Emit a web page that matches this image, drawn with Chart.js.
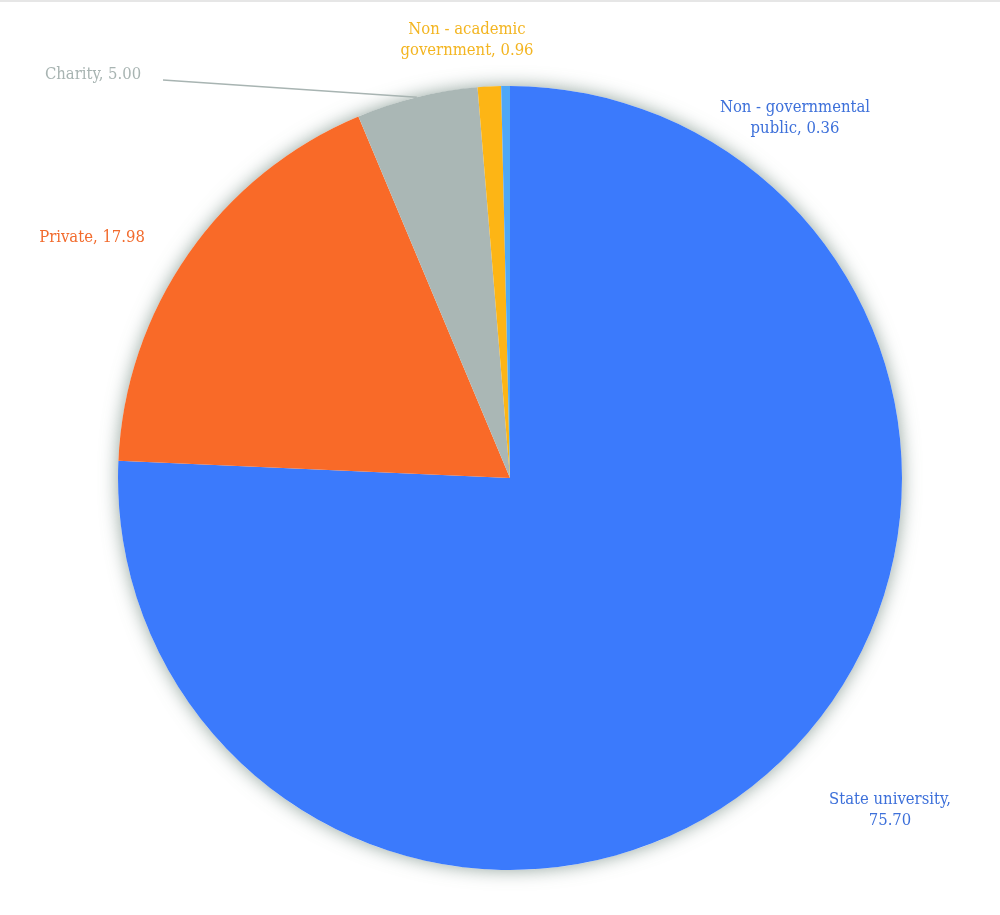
<!DOCTYPE html>
<html>
<head>
<meta charset="utf-8">
<script src="https://cdn.jsdelivr.net/npm/chart.js@4.4.0/dist/chart.umd.min.js"></script>
<style>
  html, body { margin: 0; padding: 0; background: #fff; }
  body { border-top: 2px solid #e6e6e6; box-sizing: border-box; width: 1000px; height: 915px; }
  #wrap { width: 1000px; height: 913px; }
</style>
</head>
<body>
<div id="wrap"><canvas id="pie"></canvas></div>
<script>
// Share of institutions by type (%)
const categories = ['State university', 'Private', 'Charity', 'Non - academic government', 'Non - governmental public'];
const shares = [75.70, 17.98, 5.00, 0.96, 0.36];
const sliceColors = ['#3B7AFC', '#F96A28', '#AAB7B5', '#FDB515', '#4EA7F7'];
const labelColors = ['#3D70DA', '#F26B2D', '#A8B4B2', '#F3B521', '#3D70DA'];
// label text lines per slice
const labelLines = [
  ['State university,', '75.70'],
  ['Private, 17.98'],
  ['Charity, 5.00'],
  ['Non - academic', 'government, 0.96'],
  ['Non - governmental', 'public, 0.36']
];

// Soft glow behind the pie
const pieShadow = {
  id: 'pieShadow',
  beforeDatasetsDraw(chart) {
    const arc = chart.getDatasetMeta(0).data[0];
    if (!arc) return;
    const ctx = chart.ctx;
    ctx.save();
    ctx.shadowColor = 'rgba(100,125,115,0.7)';
    ctx.shadowBlur = 18;
    ctx.fillStyle = '#ffffff';
    ctx.beginPath();
    ctx.arc(arc.x, arc.y, arc.outerRadius, 0, Math.PI * 2);
    ctx.fill();
    ctx.restore();
  }
};

// Outside labels, anchored relative to each slice
const outsideLabels = {
  id: 'outsideLabels',
  afterDatasetsDraw(chart, args, opts) {
    const ctx = chart.ctx;
    const meta = chart.getDatasetMeta(0);
    ctx.save();
    ctx.font = opts.font;
    ctx.textAlign = 'center';
    ctx.textBaseline = 'middle';
    meta.data.forEach((arc, i) => {
      const a = opts.anchors[i];
      const lines = labelLines[i];
      ctx.fillStyle = labelColors[i];
      lines.forEach((t, j) => ctx.fillText(t, a.x, a.y + j * opts.lineHeight));
      if (a.leader) {
        const mid = (arc.startAngle + arc.endAngle) / 2;
        const ex = arc.x + Math.cos(mid) * arc.outerRadius;
        const ey = arc.y + Math.sin(mid) * arc.outerRadius;
        ctx.strokeStyle = labelColors[i];
        ctx.lineWidth = 1.5;
        ctx.beginPath();
        ctx.moveTo(a.leader.x, a.leader.y);
        ctx.lineTo(ex, ey);
        ctx.stroke();
      }
    });
    ctx.restore();
  }
};

new Chart(document.getElementById('pie'), {
  type: 'pie',
  data: {
    labels: categories,
    datasets: [{
      data: shares,
      backgroundColor: sliceColors,
      borderWidth: 0
    }]
  },
  options: {
    responsive: true,
    maintainAspectRatio: false,
    animation: false,
    layout: {
      padding: { top: 84, bottom: 45, left: 118, right: 98 }
    },
    plugins: {
      legend: { display: false },
      tooltip: { enabled: false },
      outsideLabels: {
        font: "16.5px 'DejaVu Serif Condensed', 'DejaVu Serif'",
        lineHeight: 21,
        anchors: [
          { x: 890, y: 798 },
          { x: 92, y: 236 },
          { x: 93, y: 73, leader: { x: 163, y: 78 } },
          { x: 467, y: 28 },
          { x: 795, y: 106 }
        ]
      }
    }
  },
  plugins: [pieShadow, outsideLabels]
});
</script>
</body>
</html>
